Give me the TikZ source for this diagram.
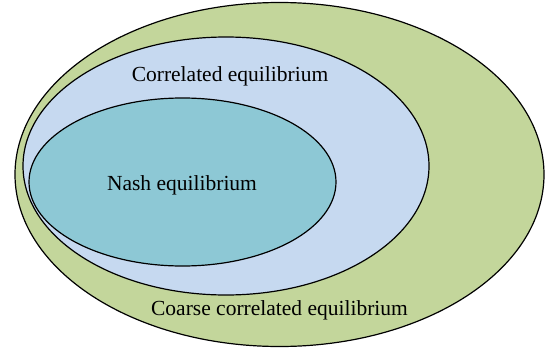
\documentclass[tikz,border=0pt]{standalone}
\usepackage{fontspec}
\setmainfont{Liberation Serif}
\usepackage{xcolor}
\usetikzlibrary{math}
\definecolor{cceGreen}{RGB}{195,214,155}
\definecolor{ceBlue}{RGB}{198,217,240}
\definecolor{neTeal}{RGB}{141,200,213}

\begin{document}
\begin{tikzpicture}[x=1pt,y=-1pt,line width=1.2pt,
  settext/.style={font=\fontsize{21.5}{24}\selectfont,inner sep=0pt}]
\tikzmath{
\ox=279.5; \oy=174.5;
\mx=226; \my=166;
\nx=182.5; \ny=182;
}
\useasboundingbox (0,0) rectangle (547,351);

%%%%%%%%%%   coarse correlated
\filldraw[fill=cceGreen] (\ox,\oy) ellipse [x radius=264.5, y radius=172];
%%%%%%%%%%   correlated
\filldraw[fill=ceBlue] (\mx,\my) ellipse [x radius=203, y radius=129];
%%%%%%%%%%   nash
\filldraw[fill=neTeal] (\nx,\ny) ellipse [x radius=153.5, y radius=84];

\node[settext] (ce) at (230,76) {Correlated equilibrium};
\node[settext] (ne) at (182,185) {Nash equilibrium};
\node[settext] (cce) at (279.5,310) {Coarse correlated equilibrium};
\end{tikzpicture}
\end{document}
